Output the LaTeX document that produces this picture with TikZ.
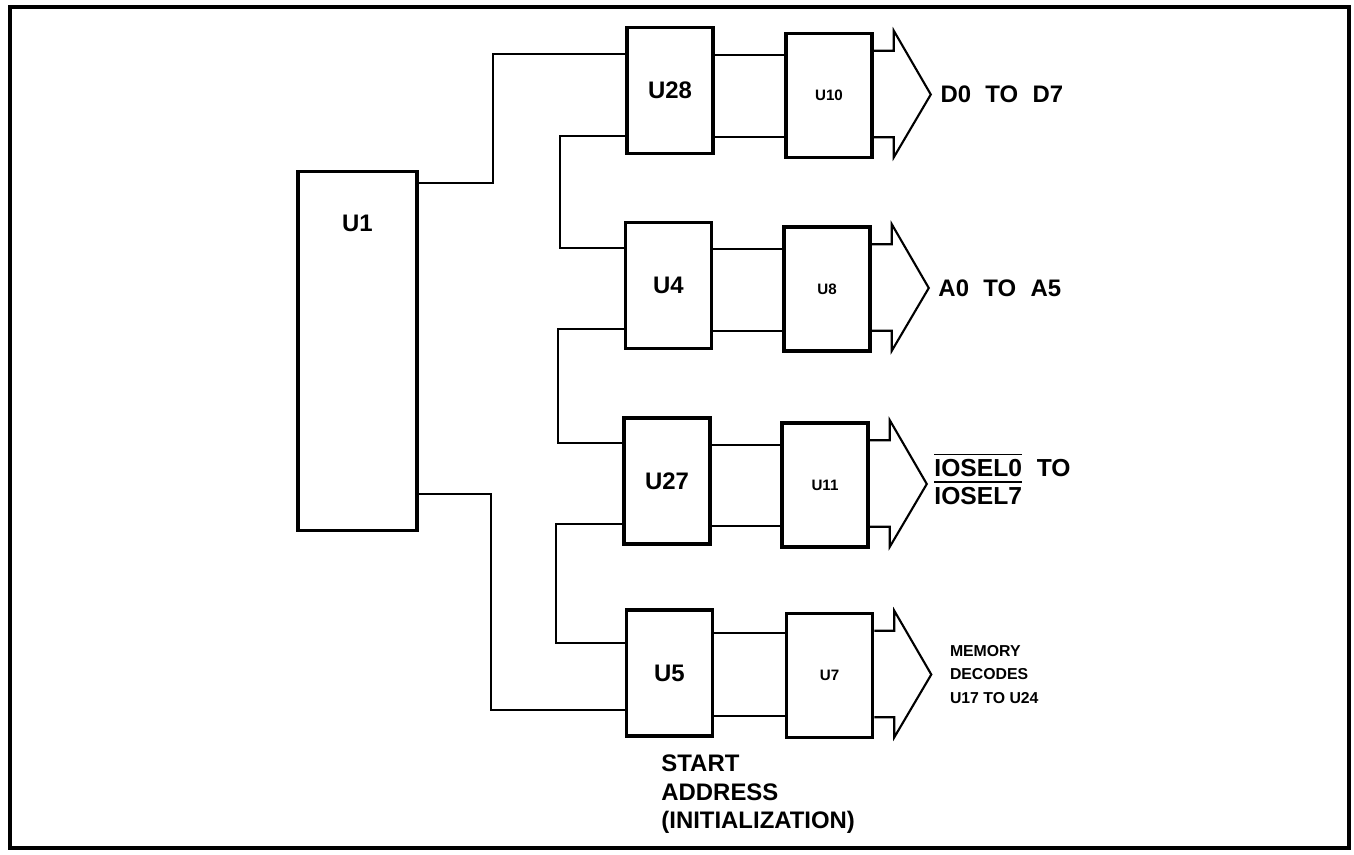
\documentclass[tikz,border=0pt]{standalone}
\usepackage{fontspec}
\setmainfont{Liberation Sans}
\usetikzlibrary{calc,positioning}

\begin{document}
\begin{tikzpicture}[x=0.01cm, y=-0.01cm,
  chip/.style={draw, line width=1pt, inner sep=0pt, minimum width=0.86cm, minimum height=1.26cm,
    font=\fontsize{6.8}{8}\selectfont\bfseries},
  smallchip/.style={chip, font=\fontsize{4.3}{5}\selectfont\bfseries},
  wire/.style={line width=0.6pt},
  bus/.style={line width=0.6pt, line join=miter},
  buslabel/.style={inner sep=0pt, align=left, font=\fontsize{6.8}{7.9}\selectfont\bfseries}]
  \useasboundingbox (0,0) rectangle (1354,854);

  % Frame
  \draw[line width=1pt] (10,7) rectangle (1349,848);

  % U1
  \node[chip, minimum width=1.19cm, minimum height=3.58cm, line width=0.9pt] (U1) at (357.5,351) {};
  \node[font=\fontsize{6.8}{8}\selectfont\bfseries] (U1-text) at (U1.center |- 0,223) {U1};

  % First column of chips
  \foreach \n/\x/\y in {U28/670/90.5, U4/668.5/285.5, U27/667/481, U5/669.5/673}
    \node[chip] (\n) at (\x,\y) {\n};

  % Second column of chips
  \foreach \n/\x/\y in {U10/829/95.5, U8/827/289, U11/825/485, U7/829.5/675.5}
    \node[smallchip, minimum height=1.24cm] (\n) at (\x,\y) {\n};

  % Wires from U1
  \draw[wire] (U1.east |- 0,183) -| (493,54) -- (U28.west |- 0,54);
  \draw[wire] (U1.east |- 0,494) -| (491,710) -- (U5.west |- 0,710);

  % Chain down the first column
  \draw[wire] (U28.west |- 0,136) -| (560,248) -- (U4.west |- 0,248);
  \draw[wire] (U4.west |- 0,329) -| (558,443) -- (U27.west |- 0,443);
  \draw[wire] (U27.west |- 0,524) -| (556,643) -- (U5.west |- 0,643);

  % Pairs of wires between columns
  \foreach \a/\b/\ya/\yb in {U28/U10/55/137, U4/U8/249/331, U27/U11/445/526, U5/U7/633/716} {
    \draw[wire] (\a.east |- 0,\ya) -- (\b.west |- 0,\ya);
    \draw[wire] (\a.east |- 0,\yb) -- (\b.west |- 0,\yb);
  }

  % Bus arrows
  \foreach \c in {U10, U8, U11, U7} {
    \coordinate (\c-tip) at ($(\c.east)+(57,-1)$);
    \draw[bus] ($(\c.north east)+(0,19)$) -- ($(\c.north east)+(20,19)$) -- ($(\c.north east)+(20,-1)$)
      -- (\c-tip) -- ($(\c.south east)+(20,-2)$) -- ($(\c.south east)+(20,-22)$) -- ($(\c.south east)+(0,-22)$);
  }

  % Bus labels
  \node[buslabel, right=0.09cm of U10-tip] (data) {D0\hspace{0.6em}TO\hspace{0.6em}D7};
  \node[buslabel, right=0.09cm of U8-tip] (addr) {A0\hspace{0.6em}TO\hspace{0.6em}A5};
  \node[buslabel, right=0.07cm of U11-tip, yshift=1.6pt, font=\fontsize{7}{7.9}\selectfont\bfseries] (iosel)
    {$\overline{\mbox{IOSEL0}}$\hspace{0.6em}TO\\$\overline{\mbox{IOSEL7}}$};
  \node[buslabel, right=0.18cm of U7-tip, font=\fontsize{4.5}{6.6}\selectfont\bfseries] (mem)
    {MEMORY\\DECODES\\U17 TO U24};

  % Start address
  \node[buslabel, below right=0.16cm and 0.36cm of U5.south west, font=\fontsize{6.8}{8.2}\selectfont\bfseries] (start)
    {START\\ADDRESS\\(INITIALIZATION)};

\end{tikzpicture}
\end{document}
